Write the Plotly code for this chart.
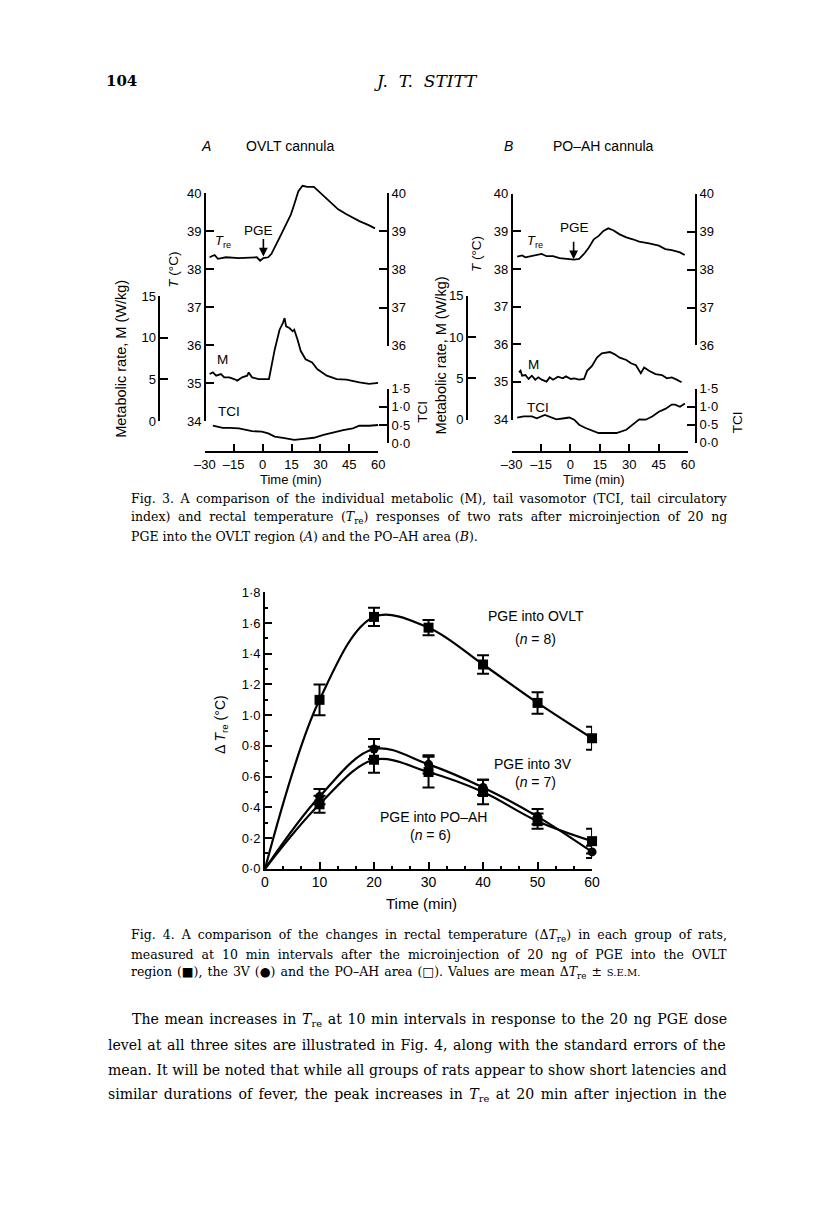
import plotly.graph_objects as go

# page is 816 x 1206; the browser adds an 8 px body margin, so the figure is 800 x 1190
PAGE_W, PAGE_H = 816, 1206
OFF = 8
W, H = PAGE_W - 2 * OFF, PAGE_H - 2 * OFF
SANS = "Liberation Sans"
SERIF = "DejaVu Serif"


def px(x):
    return (x - OFF) / W


def py(y):
    return 1 - (y - OFF) / H


# ---------------- Fig. 3A data (OVLT cannula) ----------------
tA_tre = [-27.5, -24.9, -23.2, -19, -12.3, -5.5, -3, -1.3, 0.4, 2.9, 4.6, 9.7, 14.7, 16.4, 18.5,
          20.7, 23.2, 26.6, 30, 35, 39.2, 43.5, 50.2, 55.3, 58.3]
tre_A = [38.31, 38.37, 38.27, 38.31, 38.29, 38.31, 38.31, 38.22, 38.29, 38.31, 38.40, 38.92, 39.44,
         39.70, 40.04, 40.19, 40.16, 40.16, 40.0, 39.78, 39.57, 39.44, 39.26, 39.15, 39.07]
tA_m = [-27.5, -25.8, -24.1, -21.6, -19.9, -17.3, -14.8, -13.1, -10.6, -8.0, -7.2, -5.5, -2.1, 1.2,
        3.3, 6.3, 8.8, 10.5, 11.4, 12.2, 13.9, 15.6, 16.4, 18.1, 19.8, 22.3, 25.7, 28.3, 30.8, 33.3,
        35.9, 38.4, 43.5, 46.8, 50.2, 55.3, 60]
m_A = [5.65, 5.84, 5.45, 5.65, 5.25, 5.25, 5.05, 4.86, 5.25, 5.45, 5.84, 5.25, 5.05, 5.05, 5.05,
       8.6, 10.97, 11.76, 12.36, 11.37, 11.17, 10.78, 10.97, 9.79, 8.41, 7.42, 7.03, 6.24, 5.84,
       5.45, 5.25, 5.05, 4.97, 4.86, 4.66, 4.46, 4.58]
tA_tci = [-25.8, -20.7, -17.3, -12.3, -5.5, -0.4, 2.9, 6.3, 11.4, 16.4, 21.5, 26.6, 31.6, 36.7,
          41.8, 46.8, 50.2, 55.3, 60]
tci_A = [0.48, 0.42, 0.42, 0.41, 0.33, 0.32, 0.27, 0.18, 0.14, 0.09, 0.12, 0.15, 0.23, 0.30,
         0.36, 0.41, 0.48, 0.48, 0.50]

# ---------------- Fig. 3B data (PO-AH cannula) ----------------
tB_tre = [-27.2, -24.7, -23.0, -20.5, -18.0, -14.7, -12.2, -8.9, -5.6, -2.3, 1.9, 4.4, 6.9, 9.4,
          11.9, 14.4, 16.8, 19.3, 21.8, 25.1, 28.5, 31.8, 35.1, 40.1, 45.1, 48.4, 51.7, 55.9, 58.3]
tre_B = [38.33, 38.36, 38.31, 38.34, 38.37, 38.40, 38.34, 38.34, 38.29, 38.27, 38.25, 38.27, 38.40,
         38.57, 38.79, 38.88, 39.01, 39.08, 39.03, 38.92, 38.84, 38.79, 38.73, 38.68, 38.62, 38.53,
         38.50, 38.44, 38.37]
tB_m = [-26.3, -25.5, -24.7, -23.0, -21.4, -19.7, -18.0, -16.4, -14.7, -12.2, -10.6, -8.9, -6.4,
        -3.9, -2.3, 0.2, 1.9, 4.4, 6.9, 8.5, 11.0, 13.5, 16.0, 18.5, 20.1, 22.6, 25.1, 28.5, 30.9,
        33.4, 35.9, 37.6, 40.1, 43.4, 46.7, 49.2, 51.7, 54.2, 56.7]
m_B = [5.70, 5.90, 5.31, 5.39, 4.91, 5.31, 4.83, 5.11, 4.83, 4.59, 5.11, 4.83, 5.19, 4.99, 5.23,
       4.91, 4.99, 4.83, 4.91, 5.90, 6.50, 7.50, 8.02, 8.10, 8.18, 7.90, 7.50, 7.22, 6.82, 6.58,
       5.62, 6.30, 5.90, 5.50, 5.39, 4.99, 5.11, 4.83, 4.51]
tB_tci = [-27.2, -23.9, -19.7, -17.2, -13.1, -9.7, -7.2, -3.1, -0.6, 1.9, 4.4, 7.7, 11.8, 14.3,
          18.5, 23.5, 28.5, 31.8, 35.1, 38.4, 41.7, 45.1, 48.4, 51.7, 53.4, 55.9, 58.4]
tci_B = [0.70, 0.73, 0.73, 0.68, 0.77, 0.70, 0.65, 0.68, 0.70, 0.64, 0.50, 0.41, 0.32, 0.27, 0.27,
         0.27, 0.36, 0.50, 0.65, 0.64, 0.73, 0.86, 0.94, 1.06, 1.06, 1.00, 1.09]

# ---------------- Fig. 4 data ----------------
times4 = [0, 10, 20, 30, 40, 50, 60]
ovlt = [0.0, 1.10, 1.64, 1.57, 1.33, 1.08, 0.85]
ovlt_sem = [0.0, 0.10, 0.06, 0.05, 0.06, 0.07, 0.075]
v3 = [0.0, 0.47, 0.78, 0.68, 0.53, 0.34, 0.11]
v3_sem = [0.0, 0.05, 0.065, 0.06, 0.05, 0.05, 0.04]
poah = [0.0, 0.42, 0.71, 0.63, 0.50, 0.31, 0.18]
poah_sem = [0.0, 0.055, 0.085, 0.10, 0.08, 0.05, 0.08]

# ---------------- tick labels ----------------
time_ticks = [-30, -15, 0, 15, 30, 45, 60]
time_text = ["–30", "–15", "0", "15", "30", "45", "60"]
T_ticks = [34, 35, 36, 37, 38, 39, 40]
T_right_ticks = [36, 37, 38, 39, 40]
M_ticks = [0, 5, 10, 15]
TCI_ticks = [0, 0.5, 1.0, 1.5]
TCI_text = ["0·0", "0·5", "1·0", "1·5"]
d_ticks = [0, 0.2, 0.4, 0.6, 0.8, 1.0, 1.2, 1.4, 1.6, 1.8]
d_text = ["0·0", "0·2", "0·4", "0·6", "0·8", "1·0", "1·2", "1·4", "1·6", "1·8"]

LW = 1.6
TICKFONT = dict(family=SANS, size=13, color="black")


def yax(dom, rng, pos, side, tv=None, tt=None, visible=True, font=TICKFONT):
    d = dict(domain=[py(dom[0]), py(dom[1])], range=rng, anchor="free", position=px(pos),
             side=side, showline=True, linecolor="black", linewidth=LW, ticks="inside",
             ticklen=8, tickwidth=LW, tickcolor="black", showgrid=False, zeroline=False,
             tickfont=font, fixedrange=True, visible=visible)
    if tv is not None:
        d["tickmode"] = "array"
        d["tickvals"] = tv
        d["ticktext"] = tt if tt is not None else [str(v) for v in tv]
    return d


def xax(dom, pos):
    return dict(domain=[px(dom[0]), px(dom[1])], range=[-30, 60], anchor="free", position=py(pos),
                side="bottom", showline=True, linecolor="black", linewidth=LW, ticks="inside",
                ticklen=8, tickwidth=LW, tickcolor="black", showgrid=False, zeroline=False,
                tickmode="array", tickvals=time_ticks, ticktext=time_text, tickfont=TICKFONT,
                fixedrange=True)


fig = go.Figure()
layout = {}

# panel geometry (page pixels)
panels = [
    dict(xn="x", xdom=(198.3, 376.0), xpos=451,
         ax_tvis="y", ax_tdata="y2", ax_m="y3", ax_tci="y4", ax_tr="y5",
         tdom=(419.3, 188.3), per=38.5, tpos=198.3,
         mdom=(419.3, 292.7), mpos=151.7,
         tcidom=(441.7, 386.3), rpos=386.0, rdom=(343.0, 188.3),
         t_tre=tA_tre, tre=tre_A, t_m=tA_m, mv=m_A, t_tci=tA_tci, tciv=tci_A),
    dict(xn="x2", xdom=(512.7, 693.3), xpos=451,
         ax_tvis="y6", ax_tdata="y7", ax_m="y8", ax_tci="y9", ax_tr="y10",
         tdom=(417.7, 189.0), per=38.1, tpos=512.7,
         mdom=(417.7, 292.3), mpos=466.7,
         tcidom=(441.2, 386.5), rpos=701.5, rdom=(342.7, 189.0),
         t_tre=tB_tre, tre=tre_B, t_m=tB_m, mv=m_B, t_tci=tB_tci, tciv=tci_B),
]


def lname(a):
    return a.replace("x", "xaxis").replace("y", "yaxis")


for p in panels:
    layout[lname(p["xn"])] = xax(p["xdom"], p["xpos"])
    layout[lname(p["ax_tvis"])] = yax(p["tdom"], [34, 40], p["tpos"], "left", T_ticks)
    top = p["tdom"][1] - 0.6 * p["per"]
    layout[lname(p["ax_tdata"])] = yax((p["tdom"][0], top), [34, 40.6], p["tpos"], "left",
                                       visible=False)
    layout[lname(p["ax_m"])] = yax(p["mdom"], [0, 15], p["mpos"], "left", M_ticks)
    layout[lname(p["ax_tci"])] = yax(p["tcidom"], [0, 1.5], p["rpos"], "right", TCI_ticks,
                                     TCI_text)
    layout[lname(p["ax_tr"])] = yax(p["rdom"], [36, 40], p["rpos"], "right", T_right_ticks)

    line = dict(color="black", width=1.8)
    # invisible helper traces so the visible temperature scales are drawn
    for ax in (p["ax_tvis"], p["ax_tr"]):
        fig.add_trace(go.Scatter(x=p["t_tre"], y=p["tre"], xaxis=p["xn"], yaxis=ax, mode="lines",
                                 line=line, opacity=0, hoverinfo="skip", showlegend=False))
    fig.add_trace(go.Scatter(x=p["t_tre"], y=p["tre"], xaxis=p["xn"], yaxis=p["ax_tdata"],
                             mode="lines", line=line, showlegend=False))
    fig.add_trace(go.Scatter(x=p["t_m"], y=p["mv"], xaxis=p["xn"], yaxis=p["ax_m"],
                             mode="lines", line=line, showlegend=False))
    fig.add_trace(go.Scatter(x=p["t_tci"], y=p["tciv"], xaxis=p["xn"], yaxis=p["ax_tci"],
                             mode="lines", line=line, showlegend=False))

# ---------------- Fig. 4 axes ----------------
F4FONT = dict(family=SANS, size=14, color="black")
layout["xaxis3"] = dict(domain=[px(260), px(595)], range=[0, 60], anchor="y11", showline=True,
                        linecolor="black", linewidth=LW, ticks="inside", ticklen=7,
                        tickwidth=LW, tickcolor="black", tick0=0, dtick=10, showgrid=False,
                        zeroline=False, tickfont=F4FONT, fixedrange=True,
                        minor=dict(tick0=0, dtick=10 / 3, ticks="inside", ticklen=3,
                                   tickwidth=LW, tickcolor="black", showgrid=False))
layout["yaxis11"] = dict(domain=[py(872.7), py(592.7)], range=[0, 1.8], anchor="x3",
                         showline=True, linecolor="black", linewidth=LW, ticks="inside",
                         ticklen=7, tickwidth=LW, tickcolor="black", tickmode="array",
                         tickvals=d_ticks, ticktext=d_text, showgrid=False, zeroline=False,
                         tickfont=dict(family=SANS, size=13, color="black"), fixedrange=True,
                         minor=dict(tick0=0, dtick=0.1, ticks="inside", ticklen=3,
                                    tickwidth=LW, tickcolor="black", showgrid=False))

series4 = [(ovlt, ovlt_sem, "square"), (v3, v3_sem, "circle"), (poah, poah_sem, "square")]
for vals, sem, sym in series4:
    fig.add_trace(go.Scatter(x=times4, y=vals, xaxis="x3", yaxis="y11", mode="lines",
                             line=dict(color="black", width=2.2, shape="spline", smoothing=1.0),
                             showlegend=False))
    fig.add_trace(go.Scatter(x=times4[1:], y=vals[1:], xaxis="x3", yaxis="y11", mode="markers",
                             marker=dict(symbol=sym, size=10 if sym == "square" else 9,
                                         color="black"),
                             error_y=dict(type="data", array=sem[1:], visible=True,
                                          color="black", thickness=2, width=6),
                             cliponaxis=False, showlegend=False))

# ---------------- text ----------------
ann = []


def t(x, y, s, size=13, family=SANS, angle=0, xanchor="center", color="black", ws=None):
    if ws:
        s = "<span style='word-spacing:%.2fpx'>%s</span>" % (ws, s)
    ann.append(dict(x=px(x), y=py(y), xref="paper", yref="paper", text=s, showarrow=False,
                    xanchor=xanchor, yanchor="middle", textangle=angle,
                    font=dict(family=family, size=size, color=color)))


# running head
t(95, 75, "<b>104</b>", 15, SERIF, xanchor="left")
t(425, 75, "<i>J.  T.  STITT</i>", 17, SERIF)

# panel headings
t(200, 141, "<i>A</i>", 14)
t(286, 141, "OVLT cannula", 14)
t(509, 141, "<i>B</i>", 14)
t(607, 141, "PO–AH cannula", 14)

# panel A labels
t(216.7, 237, "<i>T</i><sub>re</sub>", 13)
t(253.3, 226.5, "PGE", 13.5)
t(216.7, 357.3, "M", 13.5)
t(223, 410, "TCI", 13.5)
t(166.7, 266, "<i>T</i> (°C)", 13.5, angle=-90)
t(111.7, 356, "Metabolic rate, M (W/kg)", 14.5, angle=-90)
t(287, 478, "Time (min)", 13)
t(421.7, 410, "TCI", 13.5, angle=-90)

# panel B labels
t(536.7, 237, "<i>T</i><sub>re</sub>", 13)
t(576.7, 223.3, "PGE", 13.5)
t(535, 361.7, "M", 13.5)
t(540, 406, "TCI", 13.5)
t(477.3, 250, "<i>T</i> (°C)", 13.5, angle=-90)
t(440, 353, "Metabolic rate, M (W/kg)", 14.5, angle=-90)
t(597, 478, "Time (min)", 13)
t(744, 421, "TCI", 13.5, angle=-90)

# PGE arrows
for xr, yr, xv, yv in (("x", "y2", 0.4, 38.33), ("x2", "y7", 1.6, 38.26)):
    ann.append(dict(x=xv, y=yv, xref=xr, yref=yr, text="", showarrow=True, ax=0, ay=-19,
                    arrowhead=2, arrowsize=1.1, arrowwidth=1.6, arrowcolor="black"))

# Fig. 3 caption (justified lines -> extra word spacing)
cap3 = [
    ("Fig. 3. A comparison of the individual metabolic (M), tail vasomotor (TCI, tail circulatory", 2.5),
    ("index) and rectal temperature (<i>T</i><sub>re</sub>) responses of two rats after microinjection of 20 ng", 3.7),
    ("PGE into the OVLT region (<i>A</i>) and the PO–AH area (<i>B</i>).", 0),
]
for i, (s, ws) in enumerate(cap3):
    t(121, 498 + i * 19, s, 12.5, SERIF, xanchor="left", ws=ws)

# Fig. 4 labels
t(538, 617, "PGE into OVLT", 14)
t(537, 640, "(<i>n</i> = 8)", 14)
t(535, 767, "PGE into 3V", 14)
t(537, 785, "(<i>n</i> = 7)", 14)
t(433, 820, "PGE into PO–AH", 14)
t(430, 838, "(<i>n</i> = 6)", 14)
t(215, 727, "Δ <i>T</i><sub>re</sub> (°C)", 14, angle=-90)
t(420, 908.3, "Time (min)", 15)

# Fig. 4 caption
cap4 = [
    ("Fig. 4. A comparison of the changes in rectal temperature (Δ<i>T</i><sub>re</sub>) in each group of rats,", 3.1),
    ("measured at 10 min intervals after the microinjection of 20 ng of PGE into the OVLT", 4.0),
    ("region (■), the 3V (●) and the PO–AH area (□). Values are mean Δ<i>T</i><sub>re</sub> ± "
     "<span style='font-size:10px'>S.E.M.</span>", 1.0),
]
for i, (s, ws) in enumerate(cap4):
    t(121, 940 + i * 19, s, 12.5, SERIF, xanchor="left", ws=ws)

# body text
body = [
    ("The mean increases in <i>T</i><sub>re</sub> at 10 min intervals in response to the 20 ng PGE dose", 122, 1.2),
    ("level at all three sites are illustrated in Fig. 4, along with the standard errors of the", 97, 1.2),
    ("mean. It will be noted that while all groups of rats appear to show short latencies and", 97, 0.25),
    ("similar durations of fever, the peak increases in <i>T</i><sub>re</sub> at 20 min after injection in the", 97, 2.0),
]
for i, (s, x0, ws) in enumerate(body):
    t(x0, 1026 + i * 25.4, s, 14.1, SERIF, xanchor="left", ws=ws)

layout.update(dict(width=W, height=H, margin=dict(l=0, r=0, t=0, b=0), paper_bgcolor="white",
                   plot_bgcolor="rgba(0,0,0,0)", showlegend=False, annotations=ann))
fig.update_layout(**layout)
fig.write_html("out.html", config={"displayModeBar": False})
